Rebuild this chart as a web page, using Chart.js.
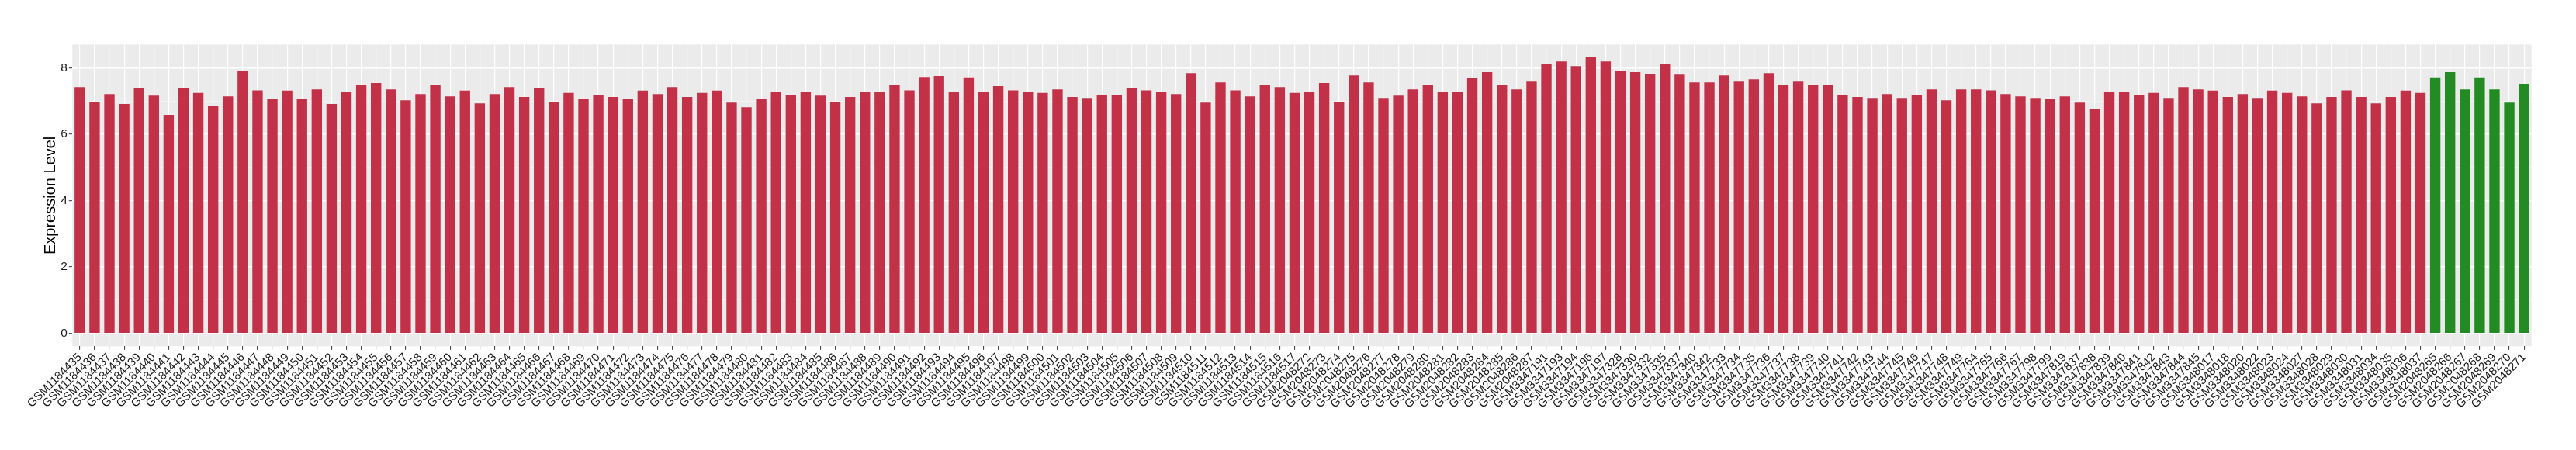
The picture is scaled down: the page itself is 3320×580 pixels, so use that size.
<!DOCTYPE html>
<html>
<head>
<meta charset="utf-8">
<script src="https://cdn.jsdelivr.net/npm/chart.js@4.4.1/dist/chart.umd.min.js"></script>
<style>
  html, body { margin: 0; padding: 0; background: #ffffff; }
  #wrap { width: 3320px; height: 580px; }
</style>
</head>
<body>
<div id="wrap"><canvas id="exprChart" width="3320" height="580"></canvas></div>
<script>
// red group samples and their expression levels
const redSamples = [
  "GSM1184435", "GSM1184436", "GSM1184437", "GSM1184438", "GSM1184439", "GSM1184440", "GSM1184441", "GSM1184442",
  "GSM1184443", "GSM1184444", "GSM1184445", "GSM1184446", "GSM1184447", "GSM1184448", "GSM1184449", "GSM1184450",
  "GSM1184451", "GSM1184452", "GSM1184453", "GSM1184454", "GSM1184455", "GSM1184456", "GSM1184457", "GSM1184458",
  "GSM1184459", "GSM1184460", "GSM1184461", "GSM1184462", "GSM1184463", "GSM1184464", "GSM1184465", "GSM1184466",
  "GSM1184467", "GSM1184468", "GSM1184469", "GSM1184470", "GSM1184471", "GSM1184472", "GSM1184473", "GSM1184474",
  "GSM1184475", "GSM1184476", "GSM1184477", "GSM1184478", "GSM1184479", "GSM1184480", "GSM1184481", "GSM1184482",
  "GSM1184483", "GSM1184484", "GSM1184485", "GSM1184486", "GSM1184487", "GSM1184488", "GSM1184489", "GSM1184490",
  "GSM1184491", "GSM1184492", "GSM1184493", "GSM1184494", "GSM1184495", "GSM1184496", "GSM1184497", "GSM1184498",
  "GSM1184499", "GSM1184500", "GSM1184501", "GSM1184502", "GSM1184503", "GSM1184504", "GSM1184505", "GSM1184506",
  "GSM1184507", "GSM1184508", "GSM1184509", "GSM1184510", "GSM1184511", "GSM1184512", "GSM1184513", "GSM1184514",
  "GSM1184515", "GSM1184516", "GSM1184517",
  "GSM2048272", "GSM2048273", "GSM2048274", "GSM2048275", "GSM2048276", "GSM2048277", "GSM2048278", "GSM2048279",
  "GSM2048280", "GSM2048281", "GSM2048282", "GSM2048283", "GSM2048284", "GSM2048285", "GSM2048286", "GSM2048287",
  "GSM3347191", "GSM3347193", "GSM3347194", "GSM3347196", "GSM3347197", "GSM3347328", "GSM3347330", "GSM3347332",
  "GSM3347335", "GSM3347337", "GSM3347340", "GSM3347342", "GSM3347733", "GSM3347734", "GSM3347735", "GSM3347736",
  "GSM3347737", "GSM3347738", "GSM3347739", "GSM3347740", "GSM3347741", "GSM3347742", "GSM3347743", "GSM3347744",
  "GSM3347745", "GSM3347746", "GSM3347747", "GSM3347748", "GSM3347749", "GSM3347764", "GSM3347765", "GSM3347766",
  "GSM3347767", "GSM3347798", "GSM3347799", "GSM3347819", "GSM3347837", "GSM3347838", "GSM3347839", "GSM3347840",
  "GSM3347841", "GSM3347842", "GSM3347843", "GSM3347844", "GSM3347845", "GSM3348017", "GSM3348018", "GSM3348020",
  "GSM3348022", "GSM3348023", "GSM3348024", "GSM3348027", "GSM3348028", "GSM3348029", "GSM3348030", "GSM3348031",
  "GSM3348034", "GSM3348035", "GSM3348036", "GSM3348037"
];
const redValues = [
  7.42, 6.98, 7.21, 6.91, 7.38, 7.16, 6.58, 7.38, 7.24, 6.86, 7.14,
  7.89, 7.32, 7.07, 7.31, 7.05, 7.35, 6.91, 7.26, 7.47, 7.54, 7.35, 7.02, 7.21, 7.47, 7.14,
  7.31, 6.93, 7.21, 7.42, 7.12, 7.40, 6.98, 7.24, 7.05, 7.19, 7.12, 7.07, 7.31, 7.21,
  7.42, 7.12, 7.24, 7.31, 6.95, 6.81, 7.07, 7.26, 7.19, 7.28, 7.16, 6.98, 7.12, 7.28, 7.28,
  7.49, 7.32, 7.72, 7.75, 7.26, 7.71, 7.28, 7.45, 7.32, 7.28, 7.24, 7.35, 7.12, 7.09,
  7.19, 7.19, 7.38, 7.32, 7.28, 7.21, 7.84, 6.95, 7.56, 7.32, 7.14, 7.49, 7.42, 7.24,
  7.26, 7.54, 6.98, 7.77, 7.56, 7.09, 7.16, 7.35, 7.49, 7.28, 7.26, 7.68, 7.87, 7.49, 7.35, 7.58,
  8.10, 8.19, 8.05, 8.31, 8.19, 7.89, 7.87, 7.82, 8.12, 7.79, 7.56, 7.56,
  7.77, 7.58, 7.65, 7.84, 7.49, 7.58, 7.47, 7.47, 7.19, 7.12, 7.09, 7.21, 7.09, 7.19, 7.35, 7.02, 7.35,
  7.35, 7.32, 7.21, 7.14, 7.09, 7.05, 7.14, 6.95, 6.77, 7.28, 7.28, 7.19, 7.24, 7.09, 7.42, 7.35,
  7.31, 7.12, 7.21, 7.09, 7.31, 7.24, 7.14, 6.93, 7.12, 7.32, 7.12, 6.93, 7.12, 7.31, 7.24
];

// green group samples
const greenSamples = ["GSM2048265", "GSM2048266", "GSM2048267", "GSM2048268", "GSM2048269", "GSM2048270", "GSM2048271"];
const greenValues = [7.71, 7.87, 7.35, 7.71, 7.35, 6.95, 7.52];

const yTicks = [0, 1, 2, 3, 4, 5, 6, 7, 8];

const RED = "#C23148";
const GREEN = "#228B22";
const FONT = "'Liberation Sans', Arial, Helvetica, sans-serif";

const labels = redSamples.concat(greenSamples);
const values = redValues.concat(greenValues);
const colors = redSamples.map(() => RED).concat(greenSamples.map(() => GREEN));

// grey ggplot-like panel behind the grid
const panelBg = {
  id: "panelBg",
  beforeDraw(chart) {
    const { ctx, chartArea: a } = chart;
    ctx.save();
    ctx.fillStyle = "#EBEBEB";
    ctx.fillRect(a.left, a.top, a.right - a.left, a.bottom - a.top);
    ctx.restore();
  }
};

const isMinor = (ctx) => ctx.tick && ctx.tick.value % 2 !== 0;

new Chart(document.getElementById("exprChart").getContext("2d"), {
  type: "bar",
  data: {
    labels: labels,
    datasets: [{
      label: "Expression Level",
      data: values,
      backgroundColor: colors,
      borderWidth: 0,
      barPercentage: 0.7,
      categoryPercentage: 1.0
    }]
  },
  options: {
    responsive: false,
    animation: false,
    layout: {
      padding: { left: 0, top: 57.4, right: 57.3, bottom: 23.7 }
    },
    plugins: {
      legend: { display: false },
      tooltip: { enabled: false }
    },
    scales: {
      x: {
        offset: true,
        afterFit: (scale) => { scale.height = 110; },
        border: { display: false },
        grid: {
          color: "#FFFFFF",
          lineWidth: 1.2,
          offset: false,
          drawTicks: true,
          tickLength: 4.5,
          tickColor: "#333333",
          tickWidth: 1
        },
        ticks: {
          autoSkip: false,
          minRotation: 45,
          maxRotation: 45,
          padding: 1,
          color: "#1a1a1a",
          font: { family: FONT, size: 15 }
        }
      },
      y: {
        min: -0.39,
        max: 8.70,
        afterBuildTicks: (scale) => { scale.ticks = yTicks.map(v => ({ value: v })); },
        afterFit: (scale) => { scale.width = 93.3; },
        border: { display: false },
        grid: {
          color: (ctx) => isMinor(ctx) ? "#F5F5F5" : "#FFFFFF",
          lineWidth: (ctx) => isMinor(ctx) ? 0.8 : 1.4,
          tickLength: 4.5,
          tickWidth: 1,
          tickColor: (ctx) => isMinor(ctx) ? "rgba(0,0,0,0)" : "#333333"
        },
        ticks: {
          padding: 2,
          color: "#1a1a1a",
          font: { family: FONT, size: 15.5 },
          callback: (v) => (v % 2 === 0 ? v : "")
        },
        title: {
          display: true,
          text: "Expression Level",
          color: "#000000",
          font: { family: FONT, size: 20 },
          padding: { top: 53, bottom: 0 }
        }
      }
    }
  },
  plugins: [panelBg]
});
</script>
</body>
</html>
